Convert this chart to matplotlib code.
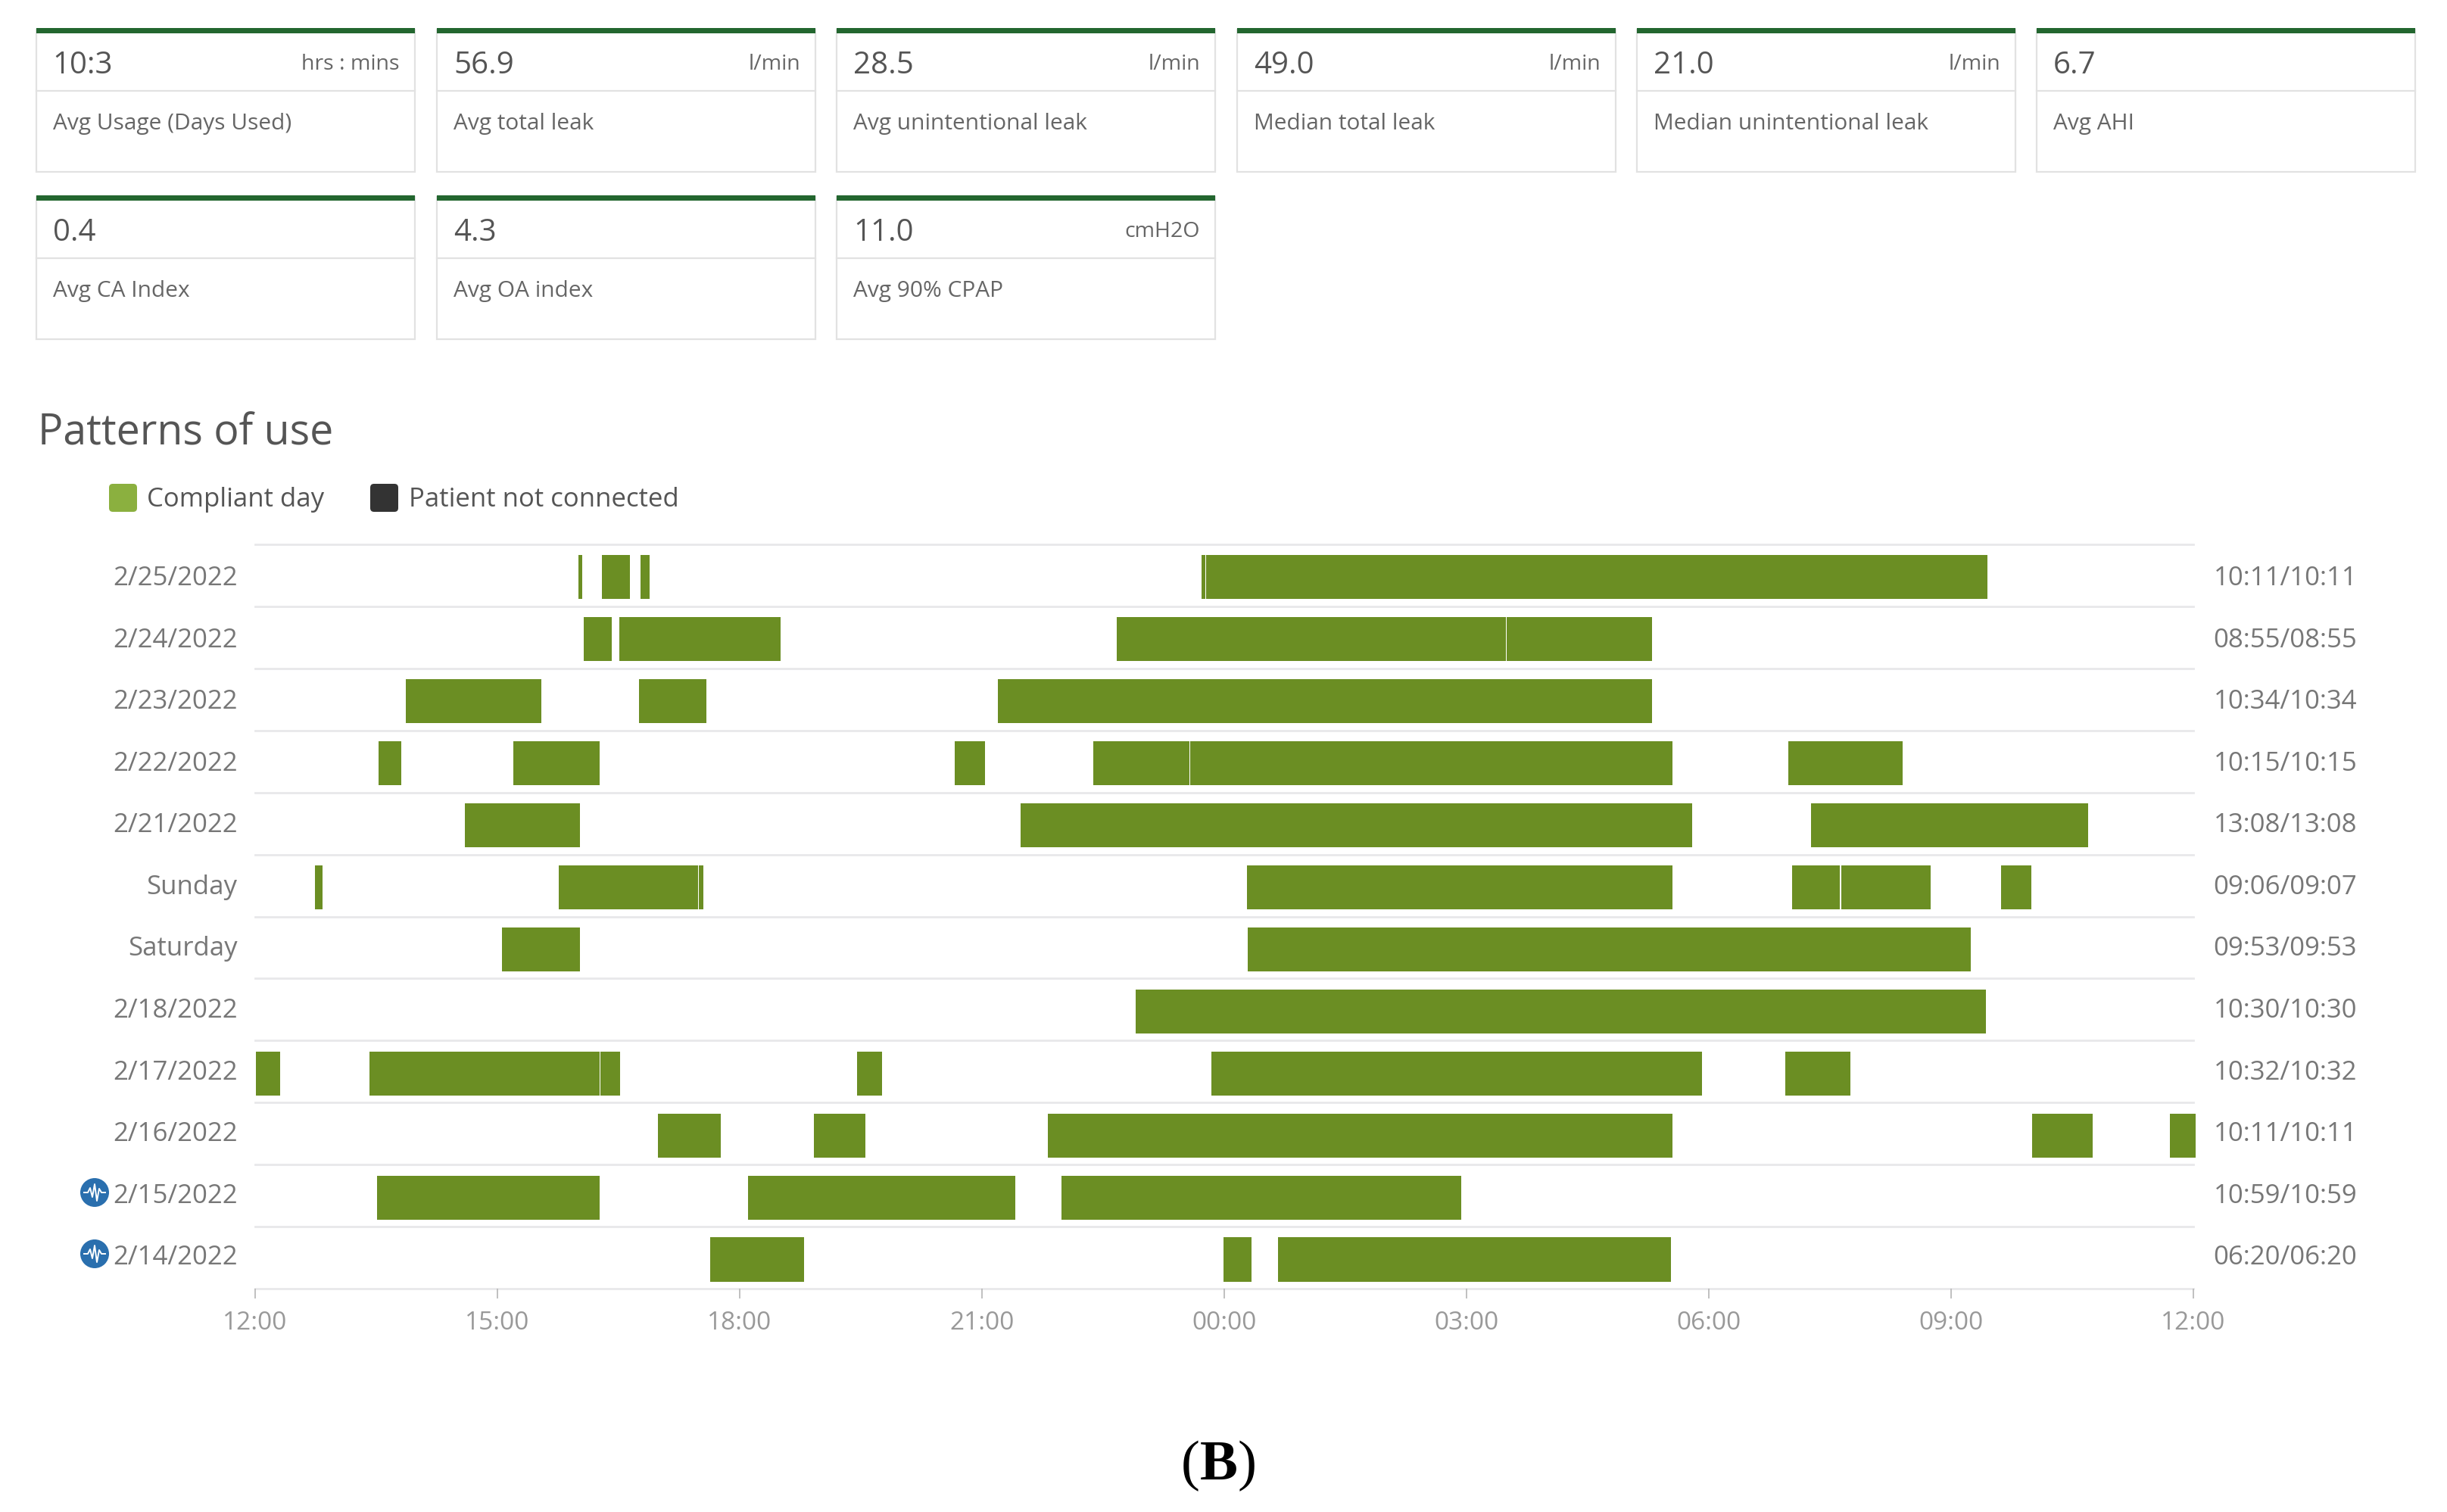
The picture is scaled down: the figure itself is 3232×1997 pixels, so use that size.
import matplotlib
matplotlib.use('Agg')
import matplotlib.pyplot as plt
from matplotlib.patches import Rectangle, Circle, FancyBboxPatch

plt.rcParams['font.family'] = ['Open Sans', 'DejaVu Sans']

# summary cards
card_values = ['10:3', '56.9', '28.5', '49.0', '21.0', '6.7', '0.4', '4.3', '11.0']
card_units = ['hrs : mins', 'l/min', 'l/min', 'l/min', 'l/min', '', '', '', 'cmH2O']
card_labels = ['Avg Usage (Days Used)', 'Avg total leak', 'Avg unintentional leak',
               'Median total leak', 'Median unintentional leak', 'Avg AHI',
               'Avg CA Index', 'Avg OA index', 'Avg 90% CPAP']

# chart rows, top to bottom
day_labels = ['2/25/2022', '2/24/2022', '2/23/2022', '2/22/2022', '2/21/2022', 'Sunday',
              'Saturday', '2/18/2022', '2/17/2022', '2/16/2022', '2/15/2022', '2/14/2022']
usage_labels = ['10:11/10:11', '08:55/08:55', '10:34/10:34', '10:15/10:15', '13:08/13:08',
                '09:06/09:07', '09:53/09:53', '10:30/10:30', '10:32/10:32', '10:11/10:11',
                '10:59/10:59', '06:20/06:20']
tick_hours = [0, 3, 6, 9, 12, 15, 18, 21, 24]
tick_labels = ['12:00', '15:00', '18:00', '21:00', '00:00', '03:00', '06:00', '09:00', '12:00']

# sessions as (start, end), hours after noon
d0225 = [(4.00, 4.05), (4.29, 4.64), (4.77, 4.88), (11.72, 11.765), (11.775, 21.45)]
d0224 = [(4.07, 4.42), (4.51, 6.51), (10.67, 15.485), (15.495, 17.30)]
d0223 = [(1.87, 3.54), (4.75, 5.59), (9.20, 17.30)]
d0222 = [(1.53, 1.81), (3.20, 4.27), (8.66, 9.04), (10.38, 11.565), (11.575, 17.55), (18.98, 20.40)]
d0221 = [(2.60, 4.02), (9.48, 17.79), (19.27, 22.70)]
d0220 = [(0.74, 0.83), (3.76, 5.485), (5.495, 5.55), (12.28, 17.55), (19.03, 19.625), (19.64, 20.75),
         (21.62, 21.99)]
d0219 = [(3.06, 4.02), (12.29, 21.24)]
d0218 = [(10.90, 21.43)]
d0217 = [(0.01, 0.31), (1.42, 4.265), (4.275, 4.52), (7.45, 7.76), (11.84, 17.92), (18.95, 19.75)]
d0216 = [(4.99, 5.77), (6.92, 7.56), (9.82, 17.55), (22.00, 22.75), (23.71, 24.03)]
d0215 = [(1.51, 4.27), (6.10, 9.41), (9.98, 14.93)]
d0214 = [(5.63, 6.80), (11.99, 12.34), (12.67, 17.53)]
sessions = [d0225, d0224, d0223, d0222, d0221, d0220, d0219, d0218, d0217, d0216, d0215, d0214]

BAR = '#6B8E23'
GRID = '#e8e8ea'
TEXT = '#666666'

fig = plt.figure(figsize=(32.32, 19.97), dpi=100, facecolor='white')

# overlay in pixel coords for cards, title, legend
bg = fig.add_axes([0, 0, 1, 1])
bg.set_xlim(0, 3232)
bg.set_ylim(1997, 0)
bg.axis('off')

card_lefts = [47.5, 577, 1105, 1634, 2162, 2690, 47.5, 577, 1105]
card_tops = [39, 39, 39, 39, 39, 39, 260, 260, 260]
for i in range(len(card_values)):
    x, y = card_lefts[i], card_tops[i]
    bg.add_patch(Rectangle((x, y), 500, 188, fc='white', ec='#e2e2e2', lw=1.6))
    bg.add_patch(Rectangle((x, y - 2), 500, 7, fc='#23662f', ec='none'))
    bg.plot([x, x + 500], [y + 81, y + 81], color='#e2e2e2', lw=1.6)
    bg.text(x + 22, y + 48, card_values[i], fontsize=29, color='#555555', va='center')
    if card_units[i]:
        bg.text(x + 480, y + 46, card_units[i], fontsize=20.5, color=TEXT, va='center', ha='right')
    bg.text(x + 22, y + 124, card_labels[i], fontsize=21.5, color=TEXT, va='center')

bg.text(50, 573, 'Patterns of use', fontsize=40, color='#555555', va='center')

bg.add_patch(FancyBboxPatch((144, 639), 37, 37, boxstyle='round,pad=0,rounding_size=5', fc='#8bb03f', ec='none'))
bg.text(194, 660, 'Compliant day', fontsize=25, color='#555555', va='center')
bg.add_patch(FancyBboxPatch((489, 639), 37, 37, boxstyle='round,pad=0,rounding_size=5', fc='#333333', ec='none'))
bg.text(540, 660, 'Patient not connected', fontsize=25, color='#555555', va='center')

# little waveform badges on the last two rows
for cy in [1575, 1656]:
    bg.add_patch(Circle((125, cy), 19, fc='#2a6fae', ec='none'))
    bg.plot([111, 116, 119, 122, 125, 128, 131, 134, 139],
            [cy, cy, cy - 6, cy + 6, cy - 11, cy + 11, cy - 5, cy, cy], color='white', lw=1.4)

# caption
bg.text(1585, 1936, '(', fontsize=54, family='Liberation Serif', ha='right', va='center', color='black')
bg.text(1610, 1936, 'B', fontsize=54, family='Liberation Serif', weight='bold', ha='center', va='center', color='black')
bg.text(1635, 1936, ')', fontsize=54, family='Liberation Serif', ha='left', va='center', color='black')

# main chart
ax = fig.add_axes([337 / 3232, 1 - 1702 / 1997, 2560 / 3232, 983 / 1997], facecolor='none')
for i, row in enumerate(sessions):
    starts = [s[0] for s in row]
    widths = [s[1] - s[0] for s in row]
    ax.barh([i + 0.53] * len(row), widths, left=starts, height=0.71, color=BAR, clip_on=False, zorder=3)

ax.set_xlim(0, 24)
ax.set_ylim(12, 0)
for y in range(13):
    ax.axhline(y, color=GRID, lw=2, zorder=1, clip_on=False)
for s in ax.spines.values():
    s.set_visible(False)

ax.set_xticks(tick_hours)
ax.set_xticklabels(tick_labels, fontsize=24, color='#999999')
ax.tick_params(axis='x', length=9, width=1.3, color='#bbbbbb', pad=12)

ypos = [i + 0.5 - 0.004 * i for i in range(12)]
ax.set_yticks(ypos)
ax.set_yticklabels(day_labels, fontsize=25, color='#777777')
ax.tick_params(axis='y', length=0, pad=17)

ax2 = ax.twinx()
ax2.set_ylim(12, 0)
ax2.set_yticks(ypos)
ax2.set_yticklabels(usage_labels, fontsize=25, color='#777777')
ax2.tick_params(axis='y', length=0, pad=19)
for s in ax2.spines.values():
    s.set_visible(False)

fig.savefig('out.png', dpi=100)
